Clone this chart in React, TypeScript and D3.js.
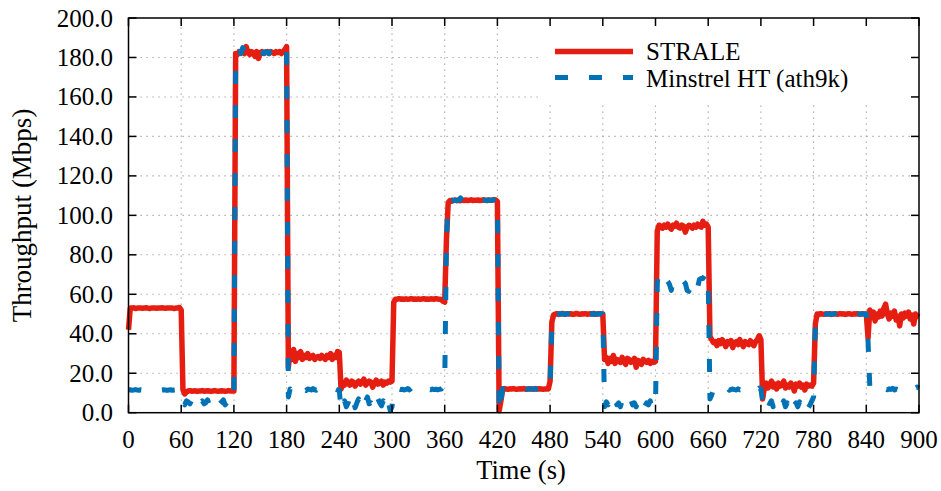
import React from 'react';
import * as d3 from 'd3';

// throughput samples, one every 2 s from t = 0 to t = 900 (one row per minute)
const SAMPLE_STEP = 2;

const straleMbps = [
    42, 53, 53, 53.2, 52.8, 53, 53.1, 53, 52.9, 53, 53.2, 53, 52.8, 53, 53, 53.1, 52.9, 53, 53, 53.2, 53, 52.9, 53, 53.1, 53, 53, 52.8, 53, 53.1, 53.3,
    52, 11.5, 9.5, 10.5, 11, 11.2, 10.9, 11, 11.1, 10.8, 11, 11, 11.2, 10.9, 11, 11.1, 11, 10.8, 11, 11.2, 11, 10.9, 11, 11.1, 11, 10.9, 11, 11.2, 11, 11,
    11, 182, 181.5, 183, 182.5, 183.5, 182, 185.5, 182.5, 181.5, 183, 182.5, 180.5, 183, 179.5, 182.5, 183, 182, 182.5, 183, 182, 183, 182.5, 182, 183, 182.5, 183, 182, 183, 184,
    185.5, 23, 31, 27, 32, 26, 30, 28, 31, 27, 29, 28, 30, 27.5, 28.5, 29, 27, 28, 28.5, 27.5, 29, 28, 27, 29, 28, 30, 27, 29, 28, 31,
    30.5, 12, 15, 14, 16.5, 15, 14, 16, 15.5, 13.5, 15, 16, 14.5, 15.5, 17, 14, 15, 16, 15.5, 13, 15, 16.5, 14.5, 15, 16, 14, 15.5, 15, 16, 15.5,
    16, 56, 57.5, 57.5, 57.8, 57.5, 57.6, 57.5, 57.7, 57.5, 57.6, 57.8, 57.5, 57.6, 57.5, 57.7, 57.5, 57.6, 57.8, 57.5, 57.6, 57.5, 57.7, 57.6, 57.5, 57.8, 57.6, 57.5, 57.4, 56.5,
    56, 88, 106.5, 107.5, 107.2, 107.5, 107.8, 107.5, 107.6, 107.4, 107.7, 107.5, 107.8, 107.5, 107.6, 107.9, 107.5, 107.7, 107.6, 107.8, 107.5, 107.6, 107.9, 107.7, 107.5, 107.8, 107.6, 107.7, 108, 107.8,
    107, 1, 6, 12, 12.2, 12, 11.9, 12.1, 12, 12.2, 12, 11.9, 12, 12.1, 12, 12.2, 11.9, 12, 12.1, 12, 12, 11.9, 12.2, 12, 12.1, 12, 11.9, 12, 12.1, 12,
    16, 46, 49.5, 50, 50.2, 49.8, 50, 50.3, 50, 49.9, 50.2, 50, 50.1, 49.8, 50, 50.3, 50, 49.9, 50.1, 50, 50.2, 49.9, 50, 50.1, 50, 50.3, 49.9, 50, 50.2, 50,
    50, 27, 28, 25, 27.5, 26, 29, 25, 27, 26.5, 25.5, 28, 26, 24.5, 27.5, 27, 25.5, 26, 27.5, 23, 26.5, 26, 24.5, 27, 26, 25.5, 26.5, 25, 26, 25.5,
    26, 92, 95, 94.5, 93.5, 95, 94, 95.5, 94, 93, 95, 94.5, 96, 94, 93.5, 95, 94.5, 91.5, 94, 95, 94.5, 93.5, 95, 94, 95.5, 94.5, 94, 97, 95, 95.5,
    94, 38.5, 37, 35.5, 36, 34, 36.5, 35, 37, 35.5, 33.5, 36, 35, 36.5, 33, 35.5, 36, 34.5, 37, 35, 33.5, 36, 35, 34.5, 36.5, 35, 34, 36, 37, 39,
    37, 7, 13, 15, 12.5, 14, 16, 13, 14.5, 12, 15, 13.5, 14, 16, 12.5, 14, 13, 15, 14, 11, 14.5, 13.5, 15, 13, 14, 11.5, 14.5, 13.5, 14, 13.5,
    15, 45, 50, 49.8, 50.2, 50, 49.9, 50.1, 50, 50.2, 49.8, 50, 50.1, 50, 49.9, 50.2, 50, 50.1, 49.8, 50, 50.2, 50, 49.9, 50.1, 50, 50.2, 49.9, 50, 50.1, 50,
    50, 38, 52, 49, 51, 46.5, 50, 48.5, 51.5, 49, 53, 55, 50, 47.5, 50.5, 49, 51.5, 47, 49, 44, 50, 48, 50.5, 49, 51, 47.5, 49.5, 45, 50, 49,
    48.5,
];

const minstrelMbps = [
    11.5, 11.6, 11.4, 11.5, 11.7, 11.5, 11.4, 11.6, 11.5, 11.5, 11.3, 11.6, 11.5, 11.4, 11.6, 11.5, 11.7, 11.5, 11.4, 11.5, 11.6, 11.5, 11.3, 11.5, 11.6, 11.4, 11.5, 11.6, 11.5, 11.4,
    11.5, 5, 4, 6, 5.5, 4.5, 6.5, 4, 5, 5.5, 3.5, 5, 6, 4.5, 5, 6.5, 4, 5.5, 5, 3.5, 6, 5, 4.5, 5.5, 6.5, 4, 5, 5.5, 4.5, 5,
    5, 182, 182.5, 183, 182, 185, 183.5, 183, 182.5, 183, 182, 182.5, 181.5, 182.5, 182, 183, 182.5, 182, 183, 182.5, 182, 183, 182.5, 182, 182.5, 183, 182, 182.5, 183, 183.5,
    184, 8, 12, 11, 12, 11.5, 12.5, 11, 11.8, 12, 11.5, 11.2, 12, 11.8, 11.5, 12.2, 11.6, 11.4, 12, 11.7, 11.5, 12.1, 11.6, 11.3, 11.8, 12, 11.5, 11.7, 11.9, 11.5,
    11.5, 1, 4, 6, 3, 5, 8, 4, 6, 2.5, 5, 7, 4, 5.5, 3, 6, 8, 4.5, 5, 3, 6, 4, 7, 5, 3.5, 6, 4, 8, 5, 1,
    3, 12, 11.8, 11.6, 12, 11.7, 11.9, 11.5, 11.8, 12.2, 11.6, 12.5, 11.4, 11.8, 12, 11.7, 11.6, 11.9, 11.7, 12, 11.5, 11.8, 11.6, 12, 11.7, 11.9, 11.6, 11.8, 12, 13,
    14, 88, 106.5, 107.5, 107.8, 107.5, 107.6, 107.4, 107.8, 108.8, 107.6, 107.5, 107.7, 107.6, 107.5, 107.8, 107.6, 107.5, 107.7, 107.6, 107.8, 107.5, 107.6, 107.7, 107.5, 107.8, 107.6, 107.7, 107.9, 107.8,
    107, 0.5, 6, 12.2, 12, 12.1, 12, 11.9, 12.2, 12, 12.1, 12, 11.9, 12.1, 12, 12.2, 12, 11.9, 12.1, 12, 12, 12.2, 11.9, 12, 12.1, 12, 12.2, 11.9, 12, 12.1,
    14, 46, 49.5, 50.2, 49.9, 50, 50.3, 50, 49.8, 50.1, 50, 50.2, 49.9, 50, 50.2, 50, 49.8, 50.1, 50, 50.3, 50, 49.9, 50.1, 50, 50.2, 49.8, 50, 50.1, 50, 50.2,
    50, 3, 5.5, 4, 6, 3.5, 5, 7, 4, 5, 3, 6, 5.5, 4, 2.5, 5, 6.5, 4, 5, 3, 6, 4.5, 5, 7, 3.5, 5, 4, 6, 2.5, 3,
    3, 66, 71.5, 70, 68.5, 68, 67.5, 66.5, 65, 62, 67, 66, 67, 67.5, 66.5, 66, 66.5, 65.5, 62, 61.5, 66, 67, 66.5, 64.5, 63.5, 67.5, 68, 68, 69.5, 70.5,
    69, 7, 9, 12, 11.8, 11.5, 12.2, 11.6, 12, 11.5, 11.8, 12.5, 11.4, 11.8, 12, 11.7, 11.5, 12.1, 11.6, 11.9, 11.5, 12, 11.7, 11.5, 12.2, 11.8, 11.6, 12, 11.7, 12.5,
    12, 6, 3, 5, 2, 4.5, 6, 3, 5, 4, 2.5, 5.5, 4, 6, 3, 5, 2, 4.5, 6.5, 4, 5, 3, 5.5, 4, 6, 3.5, 5, 2.5, 4, 6,
    8, 45, 50, 49.8, 50.1, 50, 50.2, 49.9, 50, 50.1, 49.8, 50, 50.2, 50, 49.9, 50.1, 50, 50.2, 49.8, 50, 50.1, 50, 49.9, 50.2, 50, 50.1, 49.9, 50, 50.2, 50,
    50, 36, 13, 12, 11.5, 12.2, 11.8, 12, 11.5, 12.3, 11.7, 12, 11.6, 12.1, 11.8, 12.4, 11.5, 12, 11.7, 12.2, 11.9, 11.5, 12.1, 11.8, 12, 11.6, 12.3, 11.8, 12.5, 13,
    12.5,
];

const timeTicks = [0, 60, 120, 180, 240, 300, 360, 420, 480, 540, 600, 660, 720, 780, 840, 900];
const throughputTicks = [0, 20, 40, 60, 80, 100, 120, 140, 160, 180, 200];

const seriesNames = ['STRALE', 'Minstrel HT (ath9k)'];

const WIDTH = 941;
const HEIGHT = 491;
const PLOT = { left: 128.5, right: 919, top: 18, bottom: 412.7 };
const FONT = '"Liberation Serif", "Times New Roman", serif';
const RED = '#e61e12';
const BLUE = '#0072b5';
const DASH = '13 21';
const TICK_LEN = 8;

const App = () => {
    const x = d3.scaleLinear().domain([0, 900]).range([PLOT.left, PLOT.right]);
    const y = d3.scaleLinear().domain([0, 200]).range([PLOT.bottom, PLOT.top]);

    const line = d3.line<number>()
        .x((_, i) => x(i * SAMPLE_STEP))
        .y(v => y(v))
        .curve(d3.curveLinear);

    const fmt = d3.format('.1f');

    return (
        <svg width={WIDTH} height={HEIGHT}
            style={{ position: 'absolute', left: 0, top: 0, background: '#fff' }}
            fontFamily={FONT}>

            {/* dotted grid */}
            <g stroke="#9a9a9a" strokeWidth={1.1} strokeDasharray="1.2 4.8">
                {timeTicks.slice(1, -1).map(t => (
                    <line key={`gx${t}`} x1={x(t)} x2={x(t)} y1={PLOT.bottom} y2={PLOT.top} />
                ))}
                {throughputTicks.slice(1, -1).map(v => (
                    <line key={`gy${v}`} x1={PLOT.left} x2={PLOT.right} y1={y(v)} y2={y(v)} />
                ))}
            </g>

            {/* series */}
            <path d={line(straleMbps) || ''} fill="none" stroke={RED} strokeWidth={5.5}
                strokeLinejoin="round" />
            <path d={line(minstrelMbps) || ''} fill="none" stroke={BLUE} strokeWidth={5}
                strokeDasharray={DASH} strokeLinejoin="round" />

            {/* legend (opaque key) */}
            <rect x={541} y={PLOT.top + 1} width={PLOT.right - 542} height={83} fill="#fff" />
            <line x1={555} x2={633} y1={51.5} y2={51.5} stroke={RED} strokeWidth={5.5} />
            <line x1={555} x2={633} y1={77.5} y2={77.5} stroke={BLUE} strokeWidth={5} strokeDasharray={DASH} />
            <text x={646} y={59.5} fontSize={25}>{seriesNames[0]}</text>
            <text x={646} y={87.3} fontSize={25}>{seriesNames[1]}</text>

            {/* frame and mirrored inward ticks */}
            <g stroke="#000" strokeWidth={1.5}>
                {timeTicks.map(t => (
                    <g key={`tx${t}`}>
                        <line x1={x(t)} x2={x(t)} y1={PLOT.bottom} y2={PLOT.bottom - TICK_LEN} />
                        <line x1={x(t)} x2={x(t)} y1={PLOT.top} y2={PLOT.top + TICK_LEN} />
                    </g>
                ))}
                {throughputTicks.map(v => (
                    <g key={`ty${v}`}>
                        <line x1={PLOT.left} x2={PLOT.left + TICK_LEN} y1={y(v)} y2={y(v)} />
                        <line x1={PLOT.right} x2={PLOT.right - TICK_LEN} y1={y(v)} y2={y(v)} />
                    </g>
                ))}
                <rect x={PLOT.left} y={PLOT.top} width={PLOT.right - PLOT.left}
                    height={PLOT.bottom - PLOT.top} fill="none" />
            </g>

            {/* tick labels */}
            <g fontSize={25} fill="#000">
                {timeTicks.map(t => (
                    <text key={`lx${t}`} x={x(t)} y={448} textAnchor="middle">{t}</text>
                ))}
                {throughputTicks.map(v => (
                    <text key={`ly${v}`} x={113} y={y(v) + 8.5} textAnchor="end">{fmt(v)}</text>
                ))}
            </g>

            {/* axis titles */}
            <text x={521} y={478.5} fontSize={26.5} textAnchor="middle">Time (s)</text>
            <text transform="translate(31,215.5) rotate(-90)" fontSize={27} textAnchor="middle">
                Throughput (Mbps)
            </text>
        </svg>
    );
};

export default App;
